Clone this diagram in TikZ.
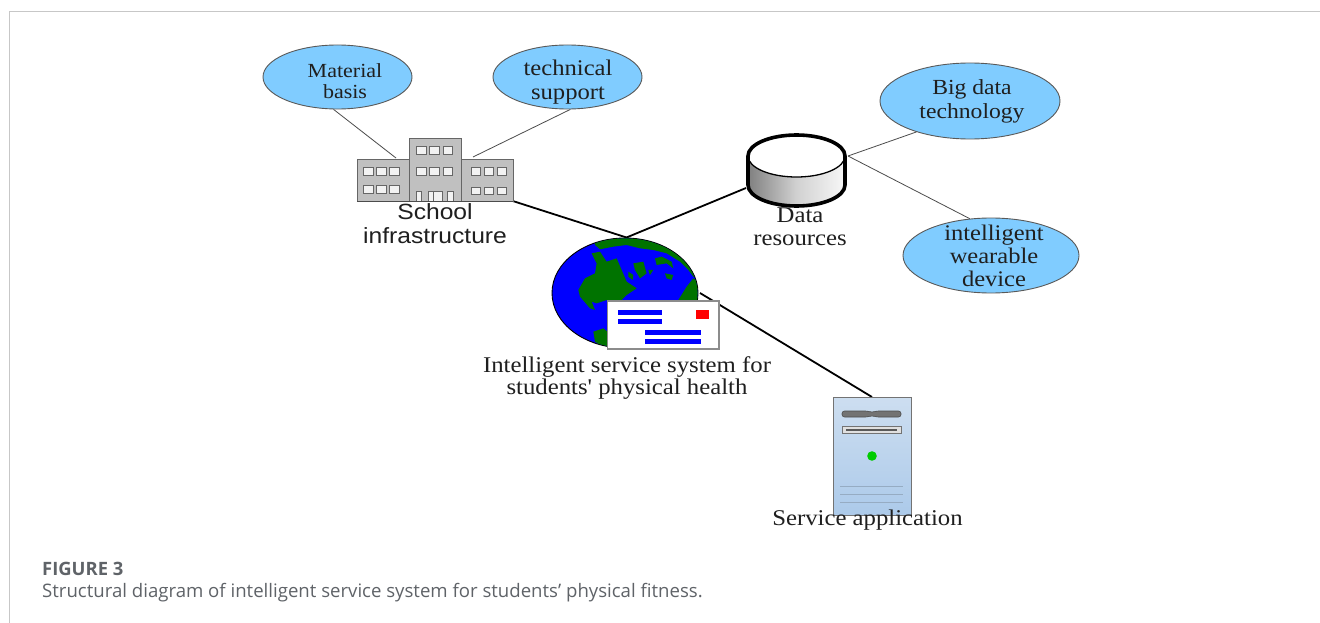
\documentclass[tikz,border=0pt]{standalone}
\usepackage{fontspec}
\setmainfont{Liberation Serif}
\newfontfamily\serw[FakeStretch=1.1]{Liberation Serif}
\newfontfamily\arialf[FakeStretch=1.12]{Liberation Sans}
\newfontfamily\capf{Open Sans}
\usetikzlibrary{shapes.geometric}
\definecolor{bub}{RGB}{128,204,255}
\definecolor{bldg}{RGB}{192,192,192}
\definecolor{capgray}{RGB}{95,99,104}
\definecolor{land}{RGB}{0,115,0}
\definecolor{srvA}{RGB}{205,222,240}
\definecolor{srvB}{RGB}{172,202,234}
\definecolor{srvL}{RGB}{150,172,195}
\tikzset{
  bubble/.style={ellipse,draw=black!65,line width=0.9pt,fill=bub,inner sep=0pt},
  blab/.style={align=center,font=\serw\fontsize{21.5}{23.5}\selectfont,text=black!88,inner sep=0pt},
  lab/.style={align=center,font=\serw\fontsize{22.5}{22.7}\selectfont,text=black!88,inner sep=0pt},
  slab/.style={align=center,font=\arialf\fontsize{22}{23.5}\selectfont,text=black!88,inner sep=0pt},
  thin link/.style={draw=black!70,line width=0.8pt},
  thick link/.style={draw=black,line width=1.8pt},
  win/.style={draw=black!60,fill=white!95!black,line width=1pt},
  bar/.style={fill=blue},
}
\begin{document}
\begin{tikzpicture}[x=1pt,y=-1pt]
\useasboundingbox (0,0) rectangle (1320,623);
\fill[white] (0,0) rectangle (1320,623);
\draw[black!22,line width=1pt] (9.5,623) -- (9.5,12) -- (1320,12);
% hub and free ends
\coordinate (hub) at (626.5,237.5);
\coordinate (bldgE) at (505,198.5);
\coordinate (cylW) at (746,188);
\coordinate (cylE) at (848,156);
\coordinate (globeE) at (700,293);
\coordinate (srvN) at (872,397);
\coordinate (bldgNW) at (396,158);
\coordinate (bldgNE) at (473,157);
% thick links
\draw[thick link] (bldgE) -- (hub) -- (cylW);
\draw[thick link] (globeE) -- (srvN);
% bubbles
\node[bubble,minimum width=149pt,minimum height=64pt] (mat) at (337.5,77) {};
\node[blab,font=\serw\fontsize{20}{21}\selectfont] (matt) at (345,81.5) {Material\\basis};
\node[bubble,minimum width=149pt,minimum height=64pt] (tech) at (567.5,77) {};
\node[blab,font=\serw\fontsize{22.4}{24}\selectfont] (techt) at (568,82) {technical\\support};
\node[bubble,minimum width=180pt,minimum height=76pt] (big) at (970,101) {};
\node[blab] (bigt) at (972,101.5) {Big data\\technology};
\node[bubble,minimum width=176pt,minimum height=75pt] (wear) at (991,255.5) {};
\node[blab,font=\serw\fontsize{22.3}{23.3}\selectfont] (weart) at (994,256) {intelligent\\wearable\\device};
\draw[thin link] (mat.263) -- (bldgNW);
\draw[thin link] (tech.275) -- (bldgNE);
\draw[thin link] (cylE) -- (big.210);
\draw[thin link] (cylE) -- (wear.120);
% building
\draw[black!60,fill=bldg,line width=0.9pt] (357,201) rectangle (409,159);
\draw[black!60,fill=bldg,line width=0.9pt] (461,201) rectangle (513,159);
\draw[black!60,fill=bldg,line width=0.9pt] (409,201) rectangle (461,138.5);
\foreach \x in {363.5,376.5,389.5}{
  \draw[win] (\x,167.5) rectangle +(9.5,7.5);
  \draw[win] (\x,185.5) rectangle +(9.5,7.5);
}
\foreach \x in {416.5,429.5,443}{
  \draw[win] (\x,147) rectangle +(9.5,7.5);
  \draw[win] (\x,167.5) rectangle +(9.5,7.5);
}
\foreach \x in {471,484,497}{
  \draw[win] (\x,167.5) rectangle +(9.5,7.5);
  \draw[win] (\x,187) rectangle +(9.5,7.5);
}
\foreach \x/\w in {416/5.5,428/5,433/9,447.5/6}{
  \draw[win] (\x,201) -- (\x,191) -- (\x+\w,191) -- (\x+\w,201);
}
\draw[black!70,line width=1pt] (357,201) -- (513,201);
\node[slab] (school) at (435,223.5) {School\\infrastructure};
% data label sits under the cylinder
\node[lab] (data) at (800,226.5) {Data\\resources};
% cylinder
\shade[left color=black!50,right color=black!3,middle color=black!18]
  (748,156) -- (748,185) arc[start angle=180,end angle=0,x radius=48.5,y radius=21] -- (845,156) -- cycle;
\fill[white] (796.5,156) ellipse[x radius=48.5,y radius=21];
\draw[black,line width=1.3pt] (748,156) arc[start angle=180,end angle=0,x radius=48.5,y radius=21];
\draw[black,line width=3.6pt,line join=round] (748,156) arc[start angle=180,end angle=360,x radius=48.5,y radius=21]
   -- (845,185) arc[start angle=0,end angle=180,x radius=48.5,y radius=21] -- cycle;
% globe
\draw[black,fill=blue,line width=0.9pt] (625,293) ellipse[x radius=73,y radius=55];
\begin{scope}
\clip (625,293) ellipse[x radius=72.6,y radius=54.6];
\begin{scope}[shift={(480,220)},x=0.3333pt,y=-0.3333pt]
\fill[land] (340,50) -- (660,50) -- (660,175) -- (640,170) -- (625,150) -- (600,125) -- (560,100) -- (520,90) -- (480,85) -- (440,75) -- (400,80) -- (360,88) -- (345,75) -- cycle;
\fill[land] (335,100) -- (360,95) -- (380,125) -- (410,115) -- (425,150) -- (440,185) -- (470,205) -- (440,225) -- (420,245) -- (380,240) -- (350,250) -- (335,245) -- (345,270) -- (330,265) -- (300,230) -- (295,210) -- (315,175) -- (345,160) -- (350,130) -- cycle;
\fill[land] (340,335) -- (370,325) -- (395,345) -- (395,390) -- (370,380) -- (345,365) -- cycle;
\fill[land] (460,130) -- (490,125) -- (500,160) -- (480,175) -- (465,150) -- cycle;
\fill[land] (505,150) -- (520,150) -- (510,165) -- cycle;
\fill[land] (525,115) -- (545,110) -- (575,125) -- (580,145) -- (560,130) -- (530,135) -- cycle;
\fill[land] (555,160) -- (580,165) -- (575,180) -- (560,175) -- cycle;
\fill[land] (445,155) -- (460,165) -- (458,180) -- (445,170) -- cycle;
\fill[land] (595,240) -- (620,200) -- (640,175) -- (660,190) -- (660,245) -- cycle;
\end{scope}
\end{scope}
% envelope
\draw[black!45,fill=white,line width=1.6pt] (607.5,301) rectangle (719,349);
\fill[bar] (618,310) rectangle (662,314.5);
\fill[bar] (618,319) rectangle (662,323.5);
\fill[bar] (645,330) rectangle (701,334.5);
\fill[bar] (645,339) rectangle (701,343.5);
\fill[red] (696,310) rectangle (709,319);
\node[lab] (isys) at (627,378) {Intelligent service system for\\students' physical health};
% server
\shade[top color=srvA,bottom color=srvB] (833,397) rectangle (911,515);
\draw[black!55,line width=0.9pt] (833,397) rectangle (911,515);
\draw[black!70,fill=black!55,line width=0.6pt,rounded corners=2.5pt] (842,411) -- (868,411) -- (872,412.5) -- (876,411) -- (901,411) -- (901,417) -- (876,417) -- (872,415.5) -- (868,417) -- (842,417) -- cycle;
\draw[black!55,fill=black!12,line width=0.8pt] (842.5,426) rectangle (901,433);
\fill[black!65] (846,428.5) rectangle (897,430.5);
\fill[green!80!black] (872,456) circle (4.8);
\foreach \y in {486,494,502}{\draw[srvL,line width=0.9pt] (840,\y) -- (903,\y);}
\node[lab] (svc) at (867.5,520.5) {Service application};
% caption
\node[anchor=west,inner sep=0pt,font=\capf\fontsize{18.4}{20}\selectfont\bfseries,text=capgray] (figlab) at (42,569) {FIGURE 3};
\node[anchor=west,inner sep=0pt,font=\capf\fontsize{18.6}{22}\selectfont,text=capgray] (cap) at (42,593) {Structural diagram of intelligent service system for students’ physical fitness.};
\end{tikzpicture}
\end{document}
